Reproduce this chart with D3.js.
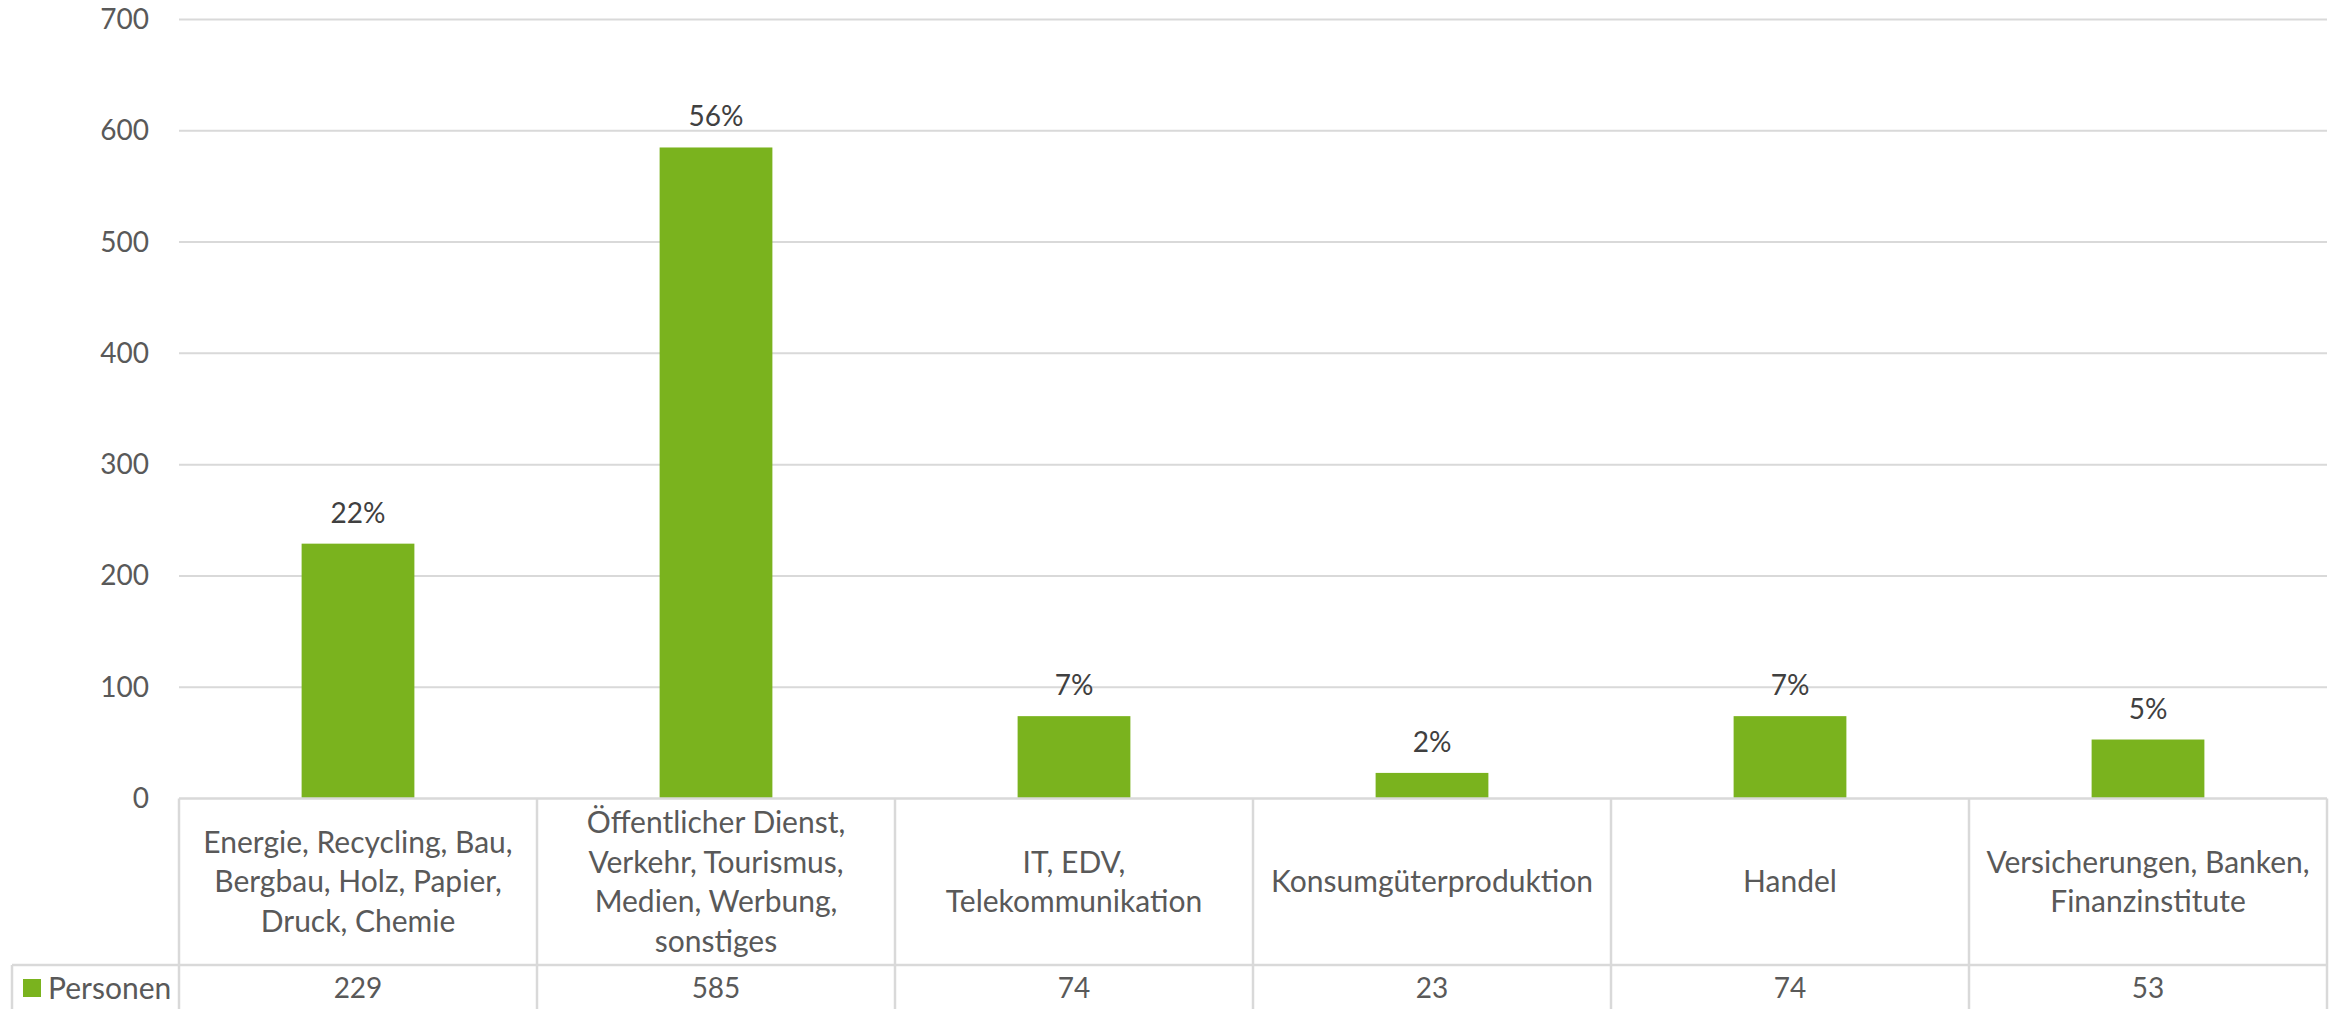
<!DOCTYPE html>
<meta charset="utf-8">
<style>
body { margin: 0; background: #fff; }
text { font-family: Lato, "Open Sans", sans-serif; }
</style>
<body>
<script src="https://d3js.org/d3.v7.min.js"></script>
<script>

// data
var categories = [
  "Energie, Recycling, Bau,\nBergbau, Holz, Papier,\nDruck, Chemie",
  "Öffentlicher Dienst,\nVerkehr, Tourismus,\nMedien, Werbung,\nsonstiges",
  "IT, EDV,\nTelekommunikation",
  "Konsumgüterproduktion",
  "Handel",
  "Versicherungen, Banken,\nFinanzinstitute"
];
var personen = [229, 585, 74, 23, 74, 53];
var percentLabels = ["22%", "56%", "7%", "2%", "7%", "5%"];
var yTicks = [0, 100, 200, 300, 400, 500, 600, 700];
var seriesName = "Personen";

// layout
var width = 2336, height = 1009;
var plot = {left: 179, right: 2327, top: 19.5, bottom: 798.5};
var rowSplit = 965, legendLeft = 12;
var green = "#7ab31e", grid = "#d9d9d9", axisText = "#595959", labelText = "#404040";

var svg = d3.select("body").append("svg")
    .attr("width", width)
    .attr("height", height);

var x = d3.scaleBand()
    .domain(categories)
    .range([plot.left, plot.right])
    .padding(0);

var y = d3.scaleLinear()
    .domain([0, 700])
    .range([plot.bottom, plot.top]);

// gridlines
svg.append("g").selectAll("line")
    .data(yTicks.slice(1))
  .enter().append("line")
    .attr("x1", plot.left)
    .attr("x2", plot.right)
    .attr("y1", function(d) { return y(d); })
    .attr("y2", function(d) { return y(d); })
    .attr("stroke", grid)
    .attr("stroke-width", 2);

// y axis
var yAxis = svg.append("g")
    .attr("transform", "translate(" + plot.left + ",0)")
    .call(d3.axisLeft(y).tickValues(yTicks).tickSize(0).tickPadding(30));
yAxis.select(".domain").remove();
yAxis.selectAll("text")
    .attr("font-size", 28)
    .attr("font-family", "Lato, sans-serif")
    .attr("fill", axisText);

// bars
var barW = x.bandwidth() * 0.315;
svg.append("g").selectAll("rect")
    .data(personen)
  .enter().append("rect")
    .attr("x", function(d, i) { return x(categories[i]) + (x.bandwidth() - barW) / 2; })
    .attr("width", barW)
    .attr("y", function(d) { return y(d); })
    .attr("height", function(d) { return y(0) - y(d); })
    .attr("fill", green);

// data labels
svg.append("g").selectAll("text")
    .data(personen)
  .enter().append("text")
    .attr("x", function(d, i) { return x(categories[i]) + x.bandwidth() / 2; })
    .attr("y", function(d) { return y(d) - 21; })
    .attr("text-anchor", "middle")
    .attr("font-size", 28)
    .attr("fill", labelText)
    .text(function(d, i) { return percentLabels[i]; });

// data table lines
var t = svg.append("g").attr("stroke", grid).attr("stroke-width", 2.5);
t.append("line").attr("x1", plot.left).attr("x2", plot.right).attr("y1", plot.bottom).attr("y2", plot.bottom);
t.append("line").attr("x1", legendLeft).attr("x2", plot.right).attr("y1", rowSplit).attr("y2", rowSplit);
t.append("line").attr("x1", legendLeft).attr("x2", legendLeft).attr("y1", rowSplit).attr("y2", height);
var bounds = categories.map(function(c) { return x(c); }).concat([plot.right]);
t.selectAll(".vline")
    .data(bounds)
  .enter().append("line")
    .attr("class", "vline")
    .attr("x1", function(d) { return d; })
    .attr("x2", function(d) { return d; })
    .attr("y1", plot.bottom)
    .attr("y2", height);

// category labels
var lineH = 39.5, catMid = (plot.bottom + rowSplit) / 2;
svg.append("g").selectAll("text")
    .data(categories)
  .enter().append("text")
    .attr("text-anchor", "middle")
    .attr("font-size", 30)
    .attr("fill", axisText)
    .each(function(d) {
        var lines = d.split("\n");
        var el = d3.select(this);
        lines.forEach(function(l, k) {
            el.append("tspan")
                .attr("x", x(d) + x.bandwidth() / 2)
                .attr("y", catMid + (k - (lines.length - 1) / 2) * lineH)
                .attr("dy", "0.35em")
                .text(l);
        });
    });

// value row
var valMid = (rowSplit + height) / 2 + 1;
svg.append("g").selectAll("text")
    .data(personen)
  .enter().append("text")
    .attr("x", function(d, i) { return x(categories[i]) + x.bandwidth() / 2; })
    .attr("y", valMid)
    .attr("dy", "0.35em")
    .attr("text-anchor", "middle")
    .attr("font-size", 28)
    .attr("fill", axisText)
    .text(function(d) { return d; });

// legend key
svg.append("rect")
    .attr("x", 23).attr("y", 979)
    .attr("width", 18).attr("height", 18)
    .attr("fill", green);
svg.append("text")
    .attr("x", 48)
    .attr("y", valMid)
    .attr("dy", "0.35em")
    .attr("font-size", 30)
    .attr("fill", axisText)
    .text(seriesName);

</script>
</body>
